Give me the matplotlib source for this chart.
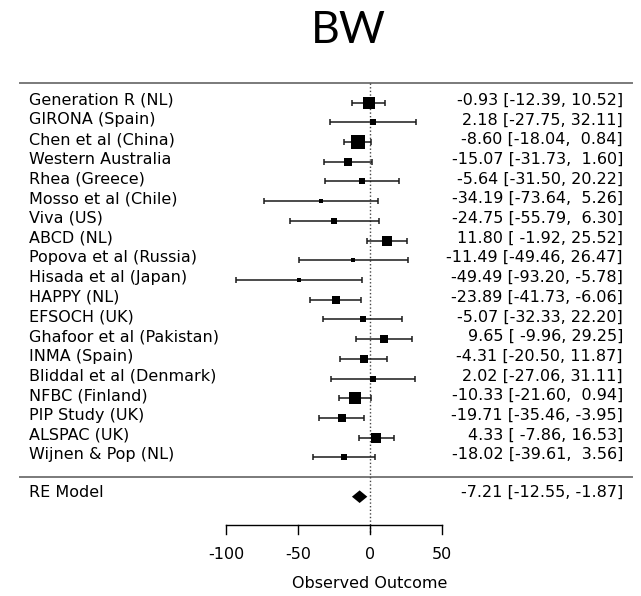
import numpy as np
import matplotlib
matplotlib.use("Agg")
from matplotlib import pyplot as plt

studies = ["Generation R (NL)", "GIRONA (Spain)", "Chen et al (China)", "Western Australia",
           "Rhea (Greece)", "Mosso et al (Chile)", "Viva (US)", "ABCD (NL)",
           "Popova et al (Russia)", "Hisada et al (Japan)", "HAPPY (NL)", "EFSOCH (UK)",
           "Ghafoor et al (Pakistan)", "INMA (Spain)", "Bliddal et al (Denmark)",
           "NFBC (Finland)", "PIP Study (UK)", "ALSPAC (UK)", "Wijnen & Pop (NL)"]
est = [-0.93, 2.18, -8.60, -15.07, -5.64, -34.19, -24.75, 11.80, -11.49, -49.49,
       -23.89, -5.07, 9.65, -4.31, 2.02, -10.33, -19.71, 4.33, -18.02]
lo = [-12.39, -27.75, -18.04, -31.73, -31.50, -73.64, -55.79, -1.92, -49.46, -93.20,
      -41.73, -32.33, -9.96, -20.50, -27.06, -21.60, -35.46, -7.86, -39.61]
hi = [10.52, 32.11, 0.84, 1.60, 20.22, 5.26, 6.30, 25.52, 26.47, -5.78,
      -6.06, 22.20, 29.25, 11.87, 31.11, 0.94, -3.95, 16.53, 3.56]
re_label = "RE Model"
re_est, re_lo, re_hi = -7.21, -12.55, -1.87
ticks = [-100, -50, 0, 50]
title = "BW"
xlabel = "Observed Outcome"

est = np.array(est)
lo = np.array(lo)
hi = np.array(hi)
k = len(est)
rows = np.arange(k)

# square size from inverse standard error, scaled to 0.5..1.5 like metafor
inv_se = 1 / (hi - lo)
psize = 0.5 + (inv_se - inv_se.min()) / (inv_se.max() - inv_se.min())

W, H, DPI = 641, 596, 100
px_per_unit = 1.44
x0_px = 370
row0_px, row_px = 102.7, 19.7


def xd(px):
    return (px - x0_px) / px_per_unit


fig = plt.figure(figsize=(W / DPI, H / DPI), dpi=DPI)
ax = fig.add_axes([0, 0, 1, 1])
ax.set_xlim(xd(0), xd(W))
ax.set_ylim((H - row0_px) / row_px, -row0_px / row_px)
ax.axis("off")

font = "DejaVu Sans"
fs = 11.5
line_col = "#1a1a1a"

# horizontal rules
ax.plot([xd(20), xd(632)], [-1, -1], color="#7a7a7a", lw=1.4)
ax.plot([xd(20), xd(632)], [k, k], color="#7a7a7a", lw=1.4)

# reference line
ax.plot([0, 0], [-1, k + 2.85], color="#444444", lw=1, ls=(0, (1, 1.6)))

# CIs and squares
ax.errorbar(est, rows, xerr=[est - lo, hi - est], fmt="none", ecolor=line_col,
            elinewidth=1.1, capsize=2.5, capthick=1.1)
for i in rows:
    ax.plot(est[i], i, marker="s", color="black", ms=8.7 * psize[i] * 0.72, mew=0)

# RE diamond
ax.fill([re_lo, re_est, re_hi, re_est], [k + 1, k + 1 - 0.32, k + 1, k + 1 + 0.32],
        color="black", lw=0)

# labels
for i in rows:
    ax.text(xd(29), i + 0.1, studies[i], ha="left", va="baseline", fontsize=fs, family=font)
    ax.text(xd(623), i + 0.1, f"{est[i]:.2f} [{lo[i]:6.2f}, {hi[i]:5.2f}]",
            ha="right", va="baseline", fontsize=fs, family=font)
ax.text(xd(29), k + 1, re_label, ha="left", va="baseline", fontsize=fs, family=font)
ax.text(xd(623), k + 1, f"{re_est:.2f} [{re_lo:6.2f}, {re_hi:5.2f}]",
        ha="right", va="baseline", fontsize=fs, family=font)

# x axis drawn by hand, R style
ya = k + 2.45
ax.plot([ticks[0], ticks[-1]], [ya, ya], color="black", lw=1)
for t in ticks:
    ax.plot([t, t], [ya, ya + 0.42], color="black", lw=1)
    ax.text(t, ya + 1.71, f"{t}", ha="center", va="baseline", fontsize=fs, family=font)
ax.text(0, ya + 3.18, xlabel, ha="center", va="baseline", fontsize=fs, family=font)

# title
ax.text(xd(348), -3.03, title, ha="center", va="baseline", fontsize=32, family="Lato")

fig.savefig("out.png", dpi=DPI)
